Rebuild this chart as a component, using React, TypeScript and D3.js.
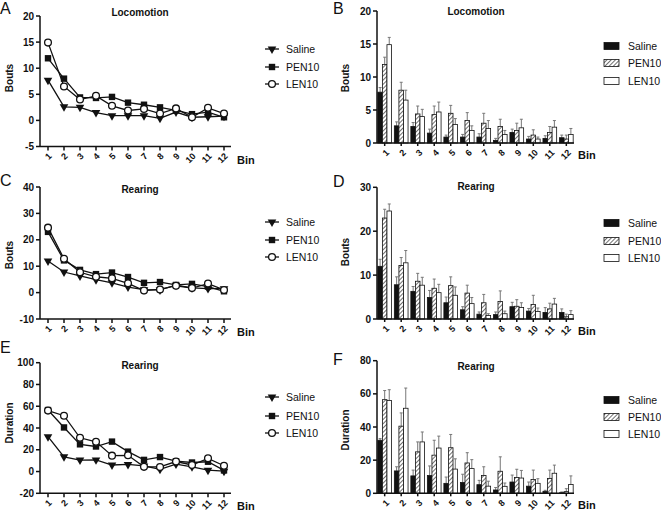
import React from 'react';
import * as d3 from 'd3';

const bins = ['1', '2', '3', '4', '5', '6', '7', '8', '9', '10', '11', '12'];
const groups = ['Saline', 'PEN10', 'LEN10'];

// Locomotion bouts
const locoSaline = [7.7, 2.6, 2.5, 1.5, 0.9, 0.9, 0.9, 0.4, 1.6, 0.6, 0.7, 0.8];
const locoPen = [11.9, 8.0, 4.4, 4.3, 4.5, 3.4, 3.0, 2.5, 1.9, 1.2, 1.6, 0.6];
const locoLen = [14.9, 6.5, 4.0, 4.7, 2.8, 1.9, 2.2, 1.3, 2.3, 0.6, 2.4, 1.3];
const locoSalineErr = [0.7, 0.6, 0.6, 0.6, 0.3, 0.4, 0.5, 0.3, 0.5, 0.4, 0.4, 0.4];
const locoPenErr = [1.1, 1.2, 1.2, 1.3, 1.2, 1.2, 1.5, 1.1, 1.1, 0.8, 0.9, 0.6];
const locoLenErr = [1.1, 1.5, 1.1, 1.5, 0.9, 0.7, 1.2, 0.6, 1.3, 0.3, 1.0, 0.9];

// Rearing bouts
const rearSaline = [12.0, 7.8, 6.3, 4.9, 3.7, 2.1, 1.1, 1.0, 2.8, 1.8, 1.5, 1.5];
const rearPen = [23.0, 12.2, 8.6, 7.0, 7.6, 5.9, 3.7, 4.0, 2.9, 3.3, 2.3, 0.5];
const rearLen = [24.6, 12.8, 7.7, 6.0, 5.4, 3.5, 0.8, 1.2, 2.6, 1.7, 3.4, 1.0];
const rearSalineErr = [1.6, 1.8, 1.1, 1.6, 1.3, 0.7, 0.5, 0.6, 1.0, 0.6, 1.1, 0.8];
const rearPenErr = [2.0, 1.8, 1.8, 2.1, 2.0, 1.8, 1.9, 2.4, 1.5, 2.1, 1.3, 0.6];
const rearLenErr = [1.6, 2.8, 1.8, 1.9, 1.9, 1.4, 0.4, 0.6, 1.1, 0.8, 1.3, 0.9];

// Rearing duration
const durSaline = [32.0, 13.5, 10.5, 10.7, 6.0, 6.5, 5.2, 2.0, 6.8, 4.3, 1.2, 0.3];
const durPen = [56.5, 40.5, 25.0, 23.0, 27.5, 18.3, 10.7, 13.3, 9.5, 8.3, 9.0, 1.0];
const durLen = [56.0, 51.3, 31.0, 27.3, 14.6, 14.9, 4.3, 4.2, 9.2, 6.0, 12.1, 5.3];
const durSalineErr = [1.0, 2.5, 3.5, 5.8, 3.8, 5.0, 2.6, 1.5, 4.2, 2.5, 0.6, 0.5];
const durPenErr = [5.5, 8.0, 6.0, 9.0, 8.0, 6.2, 5.3, 8.7, 5.0, 5.7, 5.0, 1.8];
const durLenErr = [6.5, 12.2, 6.0, 7.2, 6.2, 5.4, 3.0, 2.0, 4.6, 2.8, 4.9, 5.2];

const locoTicksLine = [-5, 0, 5, 10, 15, 20];
const rearTicksLine = [-10, 0, 10, 20, 30, 40];
const durTicksLine = [-20, 0, 20, 40, 60, 80, 100];
const locoTicksBar = [0, 5, 10, 15, 20];
const rearTicksBar = [0, 10, 20, 30];
const durTicksBar = [0, 20, 40, 60, 80];

const FONT = 'Arial, "Liberation Sans", Helvetica, sans-serif';
const INK = '#111';

type LineCfg = {
  letter: string; letterY: number; title: string; titleY: number; ylabel: string; ylabelY: number;
  domain: [number, number]; yTop: number; yBot: number; ticks: number[];
  series: number[][]; legendY: number[];
};

type BarCfg = {
  letter: string; letterY: number; title: string; titleY: number; ylabel: string; ylabelY: number;
  domain: [number, number]; yTop: number; yBot: number; ticks: number[];
  series: number[][]; errs: number[][]; legendY: number[];
};

function Marker({ kind, x, y }: { kind: number; x: number; y: number }) {
  if (kind === 0) {
    const p = d3.symbol().type(d3.symbolTriangle).size(32)();
    return <path d={p || ''} transform={`translate(${x},${y}) rotate(180)`} fill={INK} />;
  }
  if (kind === 1) {
    return <rect x={x - 3.2} y={y - 3.2} width={6.4} height={6.4} fill={INK} />;
  }
  return <circle cx={x} cy={y} r={3.4} fill="#fff" stroke={INK} strokeWidth={1.3} />;
}

function LinePanel({ c }: { c: LineCfg }) {
  const axisX = 40;
  const y = d3.scaleLinear().domain(c.domain).range([c.yBot, c.yTop]);
  const x = d3.scalePoint<string>().domain(bins).range([48, 224]);
  const line = d3.line<number>().x((_, i) => x(bins[i]) as number).y((d) => y(d));
  return (
    <g>
      <text x={0} y={c.letterY} fontSize={16} fontFamily={FONT} fill={INK}>{c.letter}</text>
      <text x={140} y={c.titleY} fontSize={10} fontWeight="bold" textAnchor="middle" fontFamily={FONT} fill={INK}>{c.title}</text>
      <text transform={`translate(12.5,${c.ylabelY}) rotate(-90)`} fontSize={10} fontWeight="bold" textAnchor="middle" fontFamily={FONT} fill={INK}>{c.ylabel}</text>
      <line x1={axisX} x2={axisX} y1={c.yTop} y2={c.yBot} stroke={INK} strokeWidth={1.5} />
      {c.ticks.map((t) => (
        <g key={t}>
          <line x1={axisX - 4} x2={axisX} y1={y(t)} y2={y(t)} stroke={INK} strokeWidth={1.5} />
          <text x={axisX - 6} y={y(t)} dy="0.35em" fontSize={10} fontWeight="bold" textAnchor="end" fontFamily={FONT} fill={INK}>{t}</text>
        </g>
      ))}
      <line x1={axisX} x2={231} y1={c.yBot} y2={c.yBot} stroke={INK} strokeWidth={1.5} />
      {bins.map((b) => (
        <g key={b}>
          <line x1={x(b)} x2={x(b)} y1={c.yBot} y2={c.yBot + 4} stroke={INK} strokeWidth={1.5} />
          <text transform={`translate(${(x(b) as number) + 2},${c.yBot + 8}) rotate(-45)`} fontSize={9} fontWeight="bold" textAnchor="end" dy="0.35em" fontFamily={FONT} fill={INK}>{b}</text>
        </g>
      ))}
      <text x={237} y={c.yBot + 17} fontSize={11} fontWeight="bold" fontFamily={FONT} fill={INK}>Bin</text>
      {c.series.map((s, k) => (
        <path key={k} d={line(s) || ''} fill="none" stroke={INK} strokeWidth={1.3} />
      ))}
      {c.series.map((s, k) => s.map((v, i) => <Marker key={`${k}-${i}`} kind={k} x={x(bins[i]) as number} y={y(v)} />))}
      {groups.map((g, k) => (
        <g key={g}>
          <line x1={265} x2={279} y1={c.legendY[k]} y2={c.legendY[k]} stroke={INK} strokeWidth={1.3} />
          <Marker kind={k} x={272} y={c.legendY[k]} />
          <text x={286} y={c.legendY[k]} dy="0.35em" fontSize={10.5} fontFamily={FONT} fill={INK}>{g}</text>
        </g>
      ))}
    </g>
  );
}

function BarPanel({ c }: { c: BarCfg }) {
  const axisX = 377;
  const y = d3.scaleLinear().domain(c.domain).range([c.yBot, c.yTop]);
  const x0 = d3.scaleBand<string>().domain(bins).range([377, 574]).paddingInner(0.17).paddingOuter(0.05);
  const x1 = d3.scaleBand<string>().domain(groups).range([0, x0.bandwidth()]).padding(0);
  const fills = [INK, 'url(#hatch)', '#fff'];
  return (
    <g>
      <text x={333} y={c.letterY} fontSize={16} fontFamily={FONT} fill={INK}>{c.letter}</text>
      <text x={476} y={c.titleY} fontSize={10} fontWeight="bold" textAnchor="middle" fontFamily={FONT} fill={INK}>{c.title}</text>
      <text transform={`translate(349,${c.ylabelY}) rotate(-90)`} fontSize={10} fontWeight="bold" textAnchor="middle" fontFamily={FONT} fill={INK}>{c.ylabel}</text>
      {c.series.map((s, k) =>
        s.map((v, i) => {
          const bx = (x0(bins[i]) as number) + (x1(groups[k]) as number);
          const w = x1.bandwidth();
          const top = y(v);
          const eTop = y(v + c.errs[k][i]);
          return (
            <g key={`${k}-${i}`}>
              <line x1={bx + w / 2} x2={bx + w / 2} y1={top} y2={eTop} stroke="#777" strokeWidth={1} />
              <line x1={bx + w / 2 - 1.5} x2={bx + w / 2 + 1.5} y1={eTop} y2={eTop} stroke="#777" strokeWidth={1} />
              <rect x={bx} y={top} width={w} height={c.yBot - top} fill={fills[k]} stroke={INK} strokeWidth={0.8} />
            </g>
          );
        })
      )}
      <line x1={axisX} x2={axisX} y1={c.yTop} y2={c.yBot} stroke={INK} strokeWidth={1.5} />
      {c.ticks.map((t) => (
        <g key={t}>
          <line x1={axisX - 4} x2={axisX} y1={y(t)} y2={y(t)} stroke={INK} strokeWidth={1.5} />
          <text x={axisX - 6} y={y(t)} dy="0.35em" fontSize={10} fontWeight="bold" textAnchor="end" fontFamily={FONT} fill={INK}>{t}</text>
        </g>
      ))}
      <line x1={axisX} x2={574} y1={c.yBot} y2={c.yBot} stroke={INK} strokeWidth={1.5} />
      {bins.map((b) => {
        const cx = (x0(b) as number) + x0.bandwidth() / 2;
        return (
          <g key={b}>
            <line x1={cx} x2={cx} y1={c.yBot} y2={c.yBot + 3} stroke={INK} strokeWidth={1.5} />
            <text transform={`translate(${cx + 3},${c.yBot + 8}) rotate(-45)`} fontSize={9} fontWeight="bold" textAnchor="end" dy="0.35em" fontFamily={FONT} fill={INK}>{b}</text>
          </g>
        );
      })}
      <text x={578} y={c.yBot + 16} fontSize={11} fontWeight="bold" fontFamily={FONT} fill={INK}>Bin</text>
      {groups.map((g, k) => (
        <g key={g}>
          <rect x={604} y={c.legendY[k] - 3.5} width={15} height={7} fill={fills[k]} stroke={INK} strokeWidth={0.8} />
          <text x={628} y={c.legendY[k]} dy="0.35em" fontSize={10.5} fontFamily={FONT} fill={INK}>{g}</text>
        </g>
      ))}
    </g>
  );
}

const lineA: LineCfg = {
  letter: 'A', letterY: 14, title: 'Locomotion', titleY: 16, ylabel: 'Bouts', ylabelY: 78,
  domain: [-5, 20], yTop: 16, yBot: 146.5, ticks: locoTicksLine,
  series: [locoSaline, locoPen, locoLen], legendY: [49, 67, 84],
};
const lineC: LineCfg = {
  letter: 'C', letterY: 186, title: 'Rearing', titleY: 193, ylabel: 'Bouts', ylabelY: 255,
  domain: [-10, 40], yTop: 187, yBot: 319, ticks: rearTicksLine,
  series: [rearSaline, rearPen, rearLen], legendY: [222, 240, 257],
};
const lineE: LineCfg = {
  letter: 'E', letterY: 353, title: 'Rearing', titleY: 369, ylabel: 'Duration', ylabelY: 423,
  domain: [-20, 100], yTop: 362.7, yBot: 493.3, ticks: durTicksLine,
  series: [durSaline, durPen, durLen], legendY: [397, 416, 433],
};
const barB: BarCfg = {
  letter: 'B', letterY: 14, title: 'Locomotion', titleY: 15, ylabel: 'Bouts', ylabelY: 78,
  domain: [0, 20], yTop: 11, yBot: 143, ticks: locoTicksBar,
  series: [locoSaline, locoPen, locoLen], errs: [locoSalineErr, locoPenErr, locoLenErr], legendY: [46, 63, 81],
};
const barD: BarCfg = {
  letter: 'D', letterY: 187, title: 'Rearing', titleY: 190, ylabel: 'Bouts', ylabelY: 252,
  domain: [0, 30], yTop: 187.3, yBot: 319, ticks: rearTicksBar,
  series: [rearSaline, rearPen, rearLen], errs: [rearSalineErr, rearPenErr, rearLenErr], legendY: [223, 241, 258],
};
const barF: BarCfg = {
  letter: 'F', letterY: 365, title: 'Rearing', titleY: 370, ylabel: 'Duration', ylabelY: 430,
  domain: [0, 80], yTop: 360.7, yBot: 493.3, ticks: durTicksBar,
  series: [durSaline, durPen, durLen], errs: [durSalineErr, durPenErr, durLenErr], legendY: [400, 417, 434],
};

export default function App() {
  return (
    <svg width={661} height={514} style={{ position: 'absolute', left: 0, top: 0, background: '#fff' }}>
      <defs>
        <pattern id="hatch" patternUnits="userSpaceOnUse" width={3} height={3} patternTransform="rotate(45)">
          <rect width={3} height={3} fill="#fff" />
          <line x1={0} y1={0} x2={0} y2={3} stroke="#333" strokeWidth={1.4} />
        </pattern>
      </defs>
      <rect width={661} height={514} fill="#fff" />
      <LinePanel c={lineA} />
      <LinePanel c={lineC} />
      <LinePanel c={lineE} />
      <BarPanel c={barB} />
      <BarPanel c={barD} />
      <BarPanel c={barF} />
    </svg>
  );
}
